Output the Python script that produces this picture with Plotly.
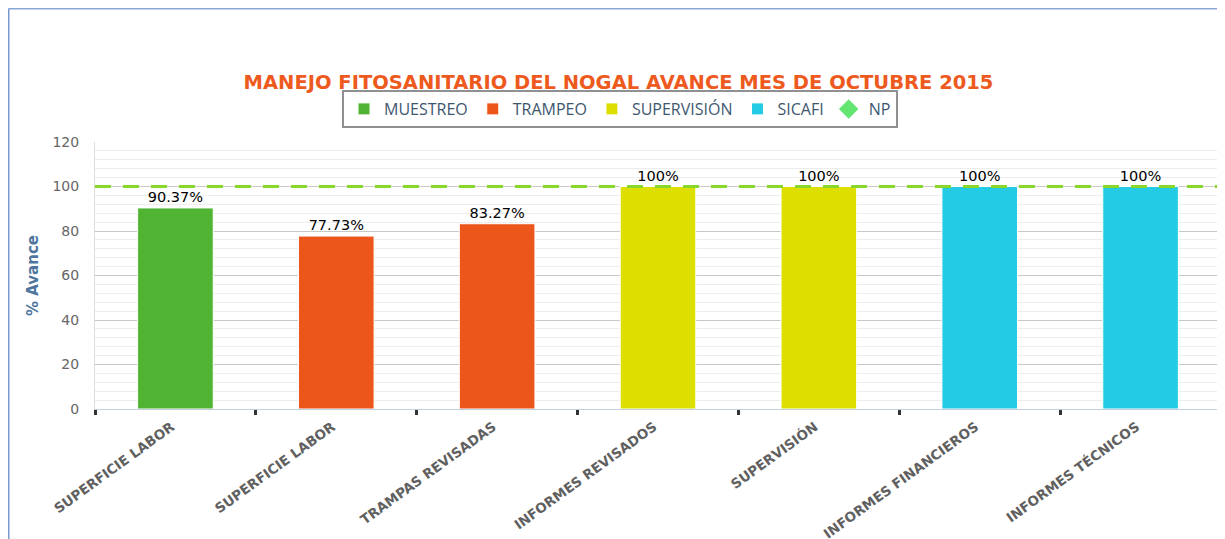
import plotly.graph_objects as go

categories = ["SUPERFICIE LABOR", "SUPERFICIE LABOR ", "TRAMPAS REVISADAS",
              "INFORMES REVISADOS", "SUPERVISIÓN", "INFORMES FINANCIEROS", "INFORMES TÉCNICOS"]
series_names = ["MUESTREO", "TRAMPEO", "SUPERVISIÓN", "SICAFI"]
series_cats = [
    ["SUPERFICIE LABOR"],
    ["SUPERFICIE LABOR ", "TRAMPAS REVISADAS"],
    ["INFORMES REVISADOS", "SUPERVISIÓN"],
    ["INFORMES FINANCIEROS", "INFORMES TÉCNICOS"],
]
series_values = [
    [90.37],
    [77.73, 83.27],
    [100, 100],
    [100, 100],
]
np_name = "NP"
np_value = 100
y_ticks = [0, 20, 40, 60, 80, 100, 120]

colors = ["#50B432", "#ED561B", "#DDDF00", "#24CBE5"]
np_color = "#64E572"
np_line_color = "#88D82A"

fig = go.Figure()
for name, cats, vals, col in zip(series_names, series_cats, series_values, colors):
    fig.add_trace(go.Bar(
        name=name, x=cats, y=vals,
        marker=dict(color=col, line=dict(color="#ffffff", width=1)),
        width=0.47,
        texttemplate="%{y}%", textposition="outside",
        textfont=dict(family="DejaVu Sans", size=14.5, color="#000000"),
        cliponaxis=False,
    ))

# NP legend entry
fig.add_trace(go.Scatter(
    name=np_name, x=[categories[0]], y=[None], mode="markers",
    marker=dict(symbol="diamond", color=np_color, size=15),
))

# NP dashed line across plot
fig.add_shape(type="line", xref="paper", yref="y", x0=0, x1=1, y0=np_value, y1=np_value,
              line=dict(color=np_line_color, width=3, dash="16px,12px"), layer="above")

# page body has an 8px offset; figure sized to fit the window
FW, FH = 1217, 531
L, R, T, B = 87, 4, 134, 130
W = FW - L - R
H = FH - T - B
fx = (0.5 - L) / W
fy = 1 + (T - 0.5) / H
fig.add_shape(type="line", xref="paper", yref="paper", x0=fx, x1=fx, y0=-2, y1=fy,
              line=dict(color="#7A9AD0", width=2), layer="above")
fig.add_shape(type="line", xref="paper", yref="paper", x0=fx, x1=1.2, y0=fy, y1=fy,
              line=dict(color="#8AA6D6", width=2), layer="above")

fig.update_layout(
    width=FW, height=FH,
    margin=dict(l=L, r=R, t=T, b=B, autoexpand=False),
    paper_bgcolor="#ffffff", plot_bgcolor="#ffffff",
    barmode="overlay",
    showlegend=True,
    title=dict(text="<b>MANEJO FITOSANITARIO DEL NOGAL AVANCE MES DE OCTUBRE 2015</b>",
               x=610.5 / FW, xanchor="center", y=1 - 74 / FH, yanchor="middle",
               font=dict(family="DejaVu Sans", size=19.5, color="#EE5A1E")),
    legend=dict(orientation="h", x=(620 - 95) / W, xanchor="center", y=(409 - 109) / H, yanchor="middle",
                bgcolor="#ffffff", bordercolor="#909090", borderwidth=2,
                font=dict(family="Open Sans", size=16, color="#3E576F"),
                itemwidth=30, traceorder="normal"),
    xaxis=dict(
        type="category", categoryorder="array", categoryarray=categories,
        tickmode="array", tickvals=categories,
        ticktext=[c.strip() for c in categories],
        tickson="boundaries", ticks="outside", ticklen=5, tickwidth=3, tickcolor="#333333",
        showline=True, linecolor="#C0D0E0", linewidth=1, mirror=False,
        tickangle=-36, ticklabelshift=-4, ticklabelstandoff=4,
        tickfont=dict(family="DejaVu Sans", size=13.5, color="#606060", weight="bold"),
        showgrid=False, fixedrange=True,
    ),
    yaxis=dict(
        range=[0, 120], tickmode="array", tickvals=y_ticks,
        tickfont=dict(family="DejaVu Sans", size=14, color="#666666"),
        ticks="", ticklabelstandoff=12,
        showgrid=True, gridcolor="#C8C8C8", gridwidth=1,
        minor=dict(dtick=4, showgrid=True, gridcolor="#EDEDED", gridwidth=1),
        showline=True, linecolor="#DCDCDC", linewidth=1, mirror=True,
        zeroline=False,
        title=dict(text="<b>% Avance</b>", standoff=10,
                   font=dict(family="DejaVu Sans", size=15, color="#4D759E")),
    ),
)

fig.write_html("out.html")
